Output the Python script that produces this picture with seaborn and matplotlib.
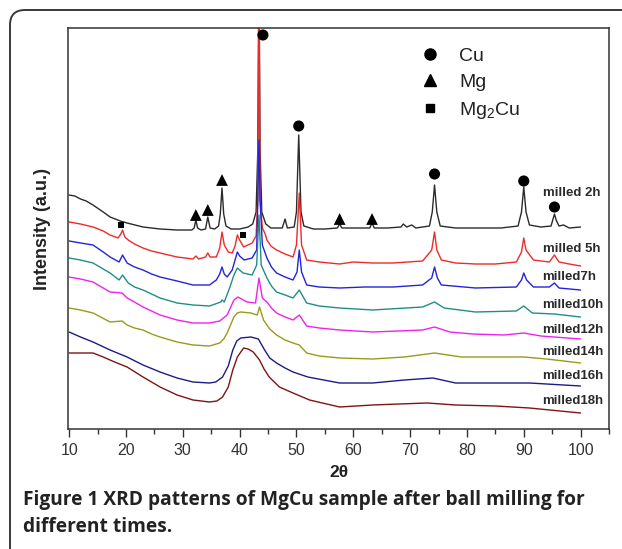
import matplotlib
matplotlib.use("Agg")
import matplotlib.pyplot as plt
import seaborn as sns
import pandas as pd
from matplotlib.patches import FancyBboxPatch
from matplotlib.lines import Line2D

# ---------------- data (2theta, intensity in a.u.) ----------------
x_2h = [10, 11, 12, 13, 14.2, 16, 17.2, 19, 20.2, 23, 26, 29, 31.6, 32.0, 32.3, 32.6, 33.2, 34.0, 34.4, 34.8,
        35.6, 36.3, 36.6, 36.9, 37.2, 37.6, 38.5, 40, 41.5, 42.3, 42.9, 43.2, 43.4, 43.6, 43.9, 44.6,
        45.5, 47.5, 48.0, 48.4, 49.6, 50.0, 50.4, 50.8, 51.3, 53, 55, 57.2, 57.6, 58.0, 60, 62.9, 63.3,
        63.7, 66, 68.4, 68.8, 69.4, 70.3, 71, 73.4, 73.9, 74.3, 74.7, 75.3, 78, 82, 86, 89.0, 89.6,
        90.0, 90.4, 91.0, 93, 94.8, 95.1, 95.4, 95.7, 96.2, 97.0, 98, 100]
y_2h = [234, 233, 230, 228, 224, 217, 212, 208, 206, 202, 200, 199, 199, 201, 209, 201, 199, 200, 212, 201,
        200, 203, 215, 241, 215, 203, 200, 200, 202, 205, 217, 279, 460, 279, 217, 205,
        201, 201, 210, 201, 202, 217, 294, 217, 203, 200, 200, 201, 205, 201, 201, 201, 206,
        201, 201, 202, 205, 202, 204, 201, 203, 217, 244, 217, 203, 201, 201, 201, 203, 217,
        242, 217, 204, 202, 203, 209, 215, 209, 203, 204, 201, 202]

x_5h = [10, 12, 14.2, 16, 17.2, 18.6, 19.1, 19.4, 19.8, 20.4, 21.5, 23, 24.5, 26, 29, 31.8, 32.3, 32.8, 34.0, 34.4,
        34.8, 35.9, 36.5, 36.9, 37.3, 38.0, 38.7, 39.2, 39.6, 40.0, 40.7, 42.2, 42.9, 43.2, 43.4, 43.6,
        44.0, 44.5, 44.8, 45.5, 46.5, 48, 49.4, 50.0, 50.5, 50.9, 51.8, 54, 57.6, 60, 63.4, 67, 72.2,
        73.8, 74.3, 74.7, 75.5, 78, 81.5, 85, 88.7, 89.6, 90.0, 90.4, 91.7, 94.5, 95.4, 96.2, 98, 100]
y_5h = [207, 205, 202, 198, 194, 191, 195, 199, 192, 189, 185, 181, 178, 176, 172, 170, 173, 170, 172, 176,
        172, 172, 181, 197, 184, 177, 176, 183, 194, 189, 182, 186, 193, 229, 460, 229,
        201, 195, 189, 183, 179, 175, 172, 184, 236, 184, 169, 167, 165, 167, 166, 166, 168,
        179, 197, 179, 169, 166, 165, 165, 167, 177, 191, 179, 169, 167, 174, 167, 165, 163]

x_7h = [10, 12, 14.2, 16, 17.2, 18.8, 19.4, 20.2, 21.5, 23, 24.5, 26, 29, 31.8, 34.7, 35.9, 36.5, 36.9, 37.3, 37.8,
        38.7, 39.3, 39.6, 40.0, 40.8, 42.2, 43.0, 43.2, 43.4, 43.6, 44.0, 44.8, 45.6, 46.5, 48, 49.4, 50.1, 50.5,
        50.9, 51.8, 54, 57.6, 62, 67, 72.2, 73.8, 74.3, 74.8, 75.5, 81.5, 88.7, 89.6, 90.0, 90.5, 91.7,
        94.5, 95.4, 96.2, 100]
y_7h = [188, 186, 184, 177, 172, 167, 174, 166, 162, 159, 155, 152, 148, 144, 144, 149, 155, 162, 155, 152,
        159, 171, 177, 173, 169, 171, 179, 229, 289, 229, 184, 171, 162, 156, 152, 149, 157, 179,
        157, 144, 142, 141, 142, 142, 144, 151, 162, 151, 144, 141, 142, 149, 156, 149, 142,
        142, 146, 141, 139]

x_10h = [10, 12, 14.2, 17.2, 18.8, 19.4, 20.4, 21.5, 23, 24.5, 26, 29, 31.8, 34.7, 36.7, 36.9, 37.3, 38.3, 39.0, 39.6,
         40.6, 42.2, 43.0, 43.4, 43.8, 44.8, 45.6, 46.5, 48, 49.4, 50.5, 51.8, 54, 57.6, 63.4, 72.2, 74.3, 76, 81.5,
         88.7, 90.0, 91.5, 95.4, 100]
y_10h = [171, 169, 166, 156, 149, 154, 146, 142, 139, 135, 131, 126, 124, 123, 127, 129, 127, 142, 154, 161,
         156, 154, 164, 214, 164, 151, 143, 137, 134, 131, 139, 126, 123, 121, 119, 122, 127, 121, 117,
         118, 123, 116, 115, 112]

x_12h = [10, 12, 14.2, 17.2, 19.3, 20.2, 21.5, 23, 24.5, 26, 29, 31.8, 34.7, 36.5, 37.8, 39.0, 39.7, 41.3, 42.8, 43.4,
         44.0, 44.8, 45.6, 46.5, 48, 49.4, 50.5, 51.8, 54, 57.6, 63.4, 72.2, 74.3, 77, 81, 86.5, 90.0, 93, 100]
y_12h = [152, 150, 147, 137, 136, 131, 127, 122, 118, 114, 109, 106, 106, 108, 114, 129, 132, 127, 126, 151,
         131, 127, 121, 116, 112, 109, 114, 103, 101, 99, 97, 99, 102, 97, 95, 94, 96, 93, 90]

x_14h = [10, 12, 14.2, 17.2, 19.3, 20.2, 21.5, 23, 24.5, 26, 29, 31.8, 34.7, 36.5, 37.2, 37.8, 38.4, 39, 39.6, 40.2,
         42, 43.1, 43.5, 44.2, 45.3, 46.5, 48, 49.4, 50.5, 51.8, 54, 57.6, 63.4, 69, 74.3, 79, 85, 90, 94, 100]
y_14h = [121, 119, 116, 107, 108, 104, 101, 99, 95, 92, 87, 84, 83, 86, 90, 96, 104, 112, 116, 117,
         116, 114, 122, 109, 100, 94, 89, 86, 84, 76, 73, 71, 70, 72, 76, 72, 72, 72, 70, 66]

x_16h = [10, 12, 14.2, 17.2, 20.2, 23, 26, 29, 31.8, 34.7, 35.8, 37, 38, 38.8, 39.5, 40.2, 42, 43.3, 43.9,
         44.4, 45.3, 46.5, 48, 49.4, 52, 57.6, 63.4, 69, 74, 78, 85, 91, 100]
y_16h = [97, 92, 87, 79, 72, 64, 57, 51, 47, 46, 47, 52, 63, 79, 88, 91, 92, 90, 84,
         79, 71, 66, 61, 57, 52, 46, 46, 49, 51, 46, 46, 46, 43]

x_18h = [10, 12, 14.2, 16, 18, 20.2, 23, 26, 29, 31.8, 34.7, 36, 37, 38, 38.8, 39.6, 40.7, 41.5, 42.4,
         43.5, 44.3, 45.2, 47, 49.4, 52.3, 57.6, 63.4, 68, 73, 78, 85, 91, 100]
y_18h = [76, 76, 76, 72, 67, 62, 52, 42, 34, 29, 27, 28, 32, 42, 59, 72, 81, 80, 77,
         69, 60, 52, 42, 36, 29, 22, 24, 25, 26, 24, 23, 21, 16]

series_names = ["milled 2h", "milled 5h", "milled7h", "milled10h",
                "milled12h", "milled14h", "milled16h", "milled18h"]
series_x = [x_2h, x_5h, x_7h, x_10h, x_12h, x_14h, x_16h, x_18h]
series_y = [y_2h, y_5h, y_7h, y_10h, y_12h, y_14h, y_16h, y_18h]
series_colors = ["#2b2b2b", "#ee2a2a", "#2323dd", "#1f8e8a",
                 "#ee22ee", "#9a9a1a", "#1c1c86", "#7e1414"]
label_y = [236, 180, 152, 124, 99, 77, 53, 28]
label_x = 93.3

# phase markers
cu_x = [44.1, 50.4, 74.3, 90.0, 95.4]
cu_y = [394, 303, 255, 248, 222]
mg_x = [32.3, 34.4, 36.9, 57.6, 63.3]
mg_y = [214, 219, 249, 210, 210]
mg2cu_x = [19.1, 40.6]
mg2cu_y = [204, 194]

x_ticks = [10, 20, 30, 40, 50, 60, 70, 80, 90, 100]

# ---------------- figure ----------------
sns.set_theme(style="white")
plt.rcParams["font.family"] = ["Liberation Sans", "DejaVu Sans"]
plt.rcParams["mathtext.fontset"] = "custom"
plt.rcParams["mathtext.rm"] = "Liberation Sans"
plt.rcParams["mathtext.it"] = "Liberation Sans:italic"
plt.rcParams["mathtext.bf"] = "Liberation Sans:bold"

W, H = 622, 549
fig = plt.figure(figsize=(W / 100, H / 100), dpi=100)
fig.patch.set_facecolor("white")

frame = FancyBboxPatch((0.10, -0.5), 7.0, 5.89,
                       boxstyle="round,pad=0,rounding_size=0.15",
                       transform=fig.dpi_scale_trans, fill=False,
                       edgecolor="#3a3a3a", linewidth=1.4, zorder=0)
fig.patches.append(frame)

ax = fig.add_axes([68 / W, 1 - 429 / H, (609 - 68) / W, (429 - 28) / H])
ax.set_facecolor("white")

for name, xs, ys, col in zip(series_names, series_x, series_y, series_colors):
    df = pd.DataFrame({"two_theta": xs, "intensity": ys})
    sns.lineplot(data=df, x="two_theta", y="intensity", ax=ax, color=col,
                 linewidth=1.0, estimator=None, sort=False)

for name, ly, col in zip(series_names, label_y, series_colors):
    ax.text(label_x, ly, name, fontsize=9.5, fontweight="bold", color="#2a2a2a",
            ha="left", va="center")

mk = dict(color="black", edgecolor="none", ax=ax, zorder=5, legend=False)
sns.scatterplot(x=cu_x, y=cu_y, marker="o", s=64, **mk)
sns.scatterplot(x=mg_x, y=mg_y, marker="^", s=72, **mk)
sns.scatterplot(x=mg2cu_x, y=mg2cu_y, marker="s", s=22, **mk)

handles = [Line2D([], [], ls="none", marker="o", ms=8, color="black"),
           Line2D([], [], ls="none", marker="^", ms=8, color="black"),
           Line2D([], [], ls="none", marker="s", ms=5.5, color="black")]
leg = ax.legend(handles, ["Cu", "Mg", "Mg$_\\mathregular{2}$Cu"], loc="upper left",
                bbox_to_anchor=(0.651, 0.952), frameon=False, fontsize=14,
                handlelength=1.0, handletextpad=1.0, labelspacing=0.45,
                borderpad=0, borderaxespad=0)
for t in leg.get_texts():
    t.set_color("#222222")

ax.set_xlim(9.8, 104.9)
ax.set_ylim(0, 401)
ax.set_xticks(x_ticks)
ax.set_xticks([v + 5 for v in x_ticks[:-1]] + [105], minor=True)
ax.set_yticks([])
ax.tick_params(axis="x", which="major", direction="out", length=6, width=1.0,
               color="#333333", labelsize=11.5, labelcolor="#333333", pad=4, bottom=True)
ax.tick_params(axis="x", which="minor", direction="out", length=3.5, width=1.0,
               color="#333333", bottom=True)
for sp in ax.spines.values():
    sp.set_color("#333333")
    sp.set_linewidth(1.1)

ax.set_xlabel("2θ", fontsize=12.5, fontweight="bold", color="#222222", labelpad=5)
ax.set_ylabel("Intensity (a.u.)", fontsize=13, fontweight="bold", color="#222222", labelpad=12)

cap_font = dict(fontsize=13.8, fontweight="bold", family=["Open Sans", "DejaVu Sans"],
                color="#222222", ha="left", va="center")
fig.text(23 / W, 1 - 500 / H, "Figure 1 XRD patterns of MgCu sample after ball milling for", **cap_font)
fig.text(23 / W, 1 - 527 / H, "different times.", **cap_font)

fig.savefig("out.png", dpi=100, facecolor="white")
